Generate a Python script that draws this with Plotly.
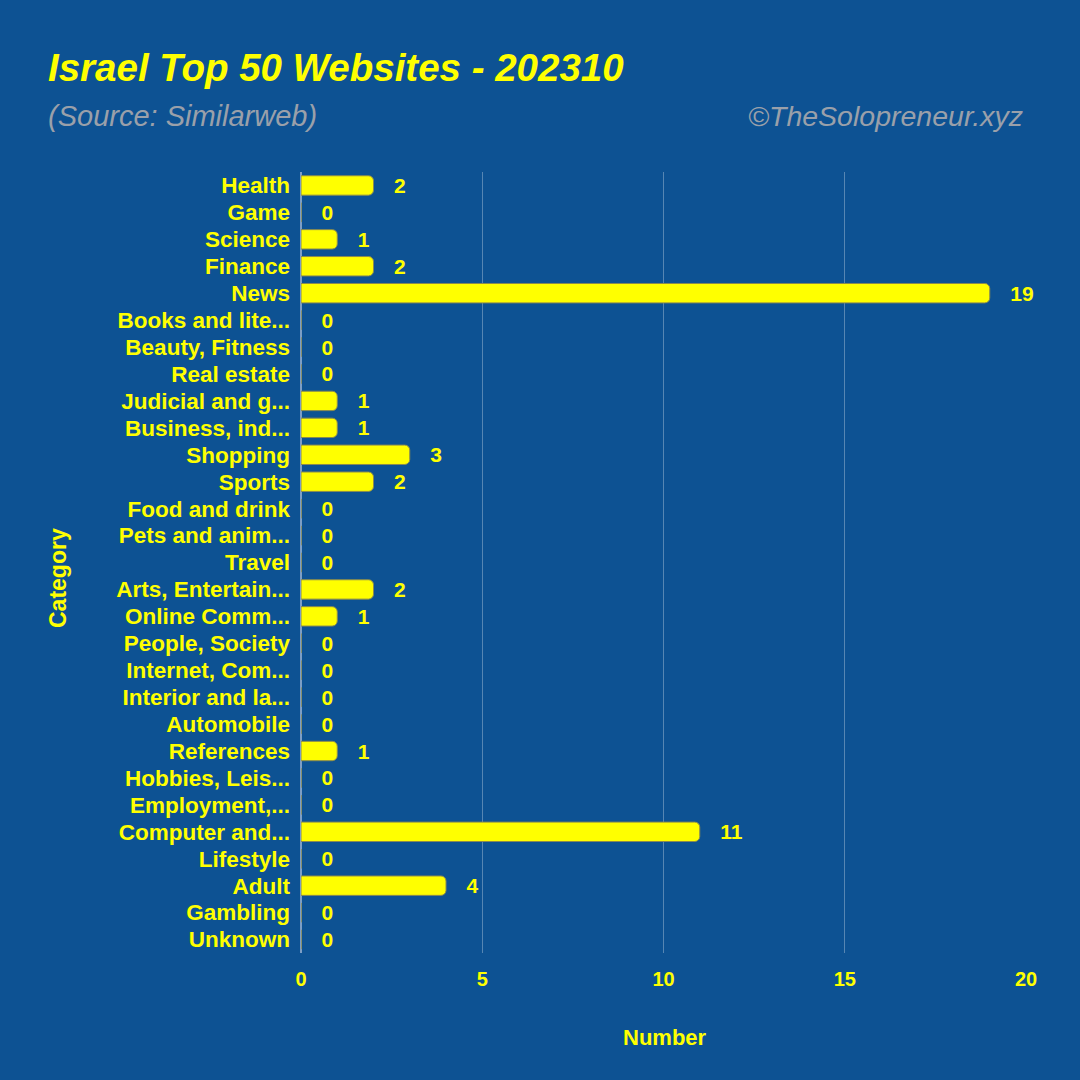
import plotly.graph_objects as go

categories = ["Health", "Game", "Science", "Finance", "News", "Books and lite...",
              "Beauty, Fitness", "Real estate", "Judicial and g...", "Business, ind...",
              "Shopping", "Sports", "Food and drink", "Pets and anim...", "Travel",
              "Arts, Entertain...", "Online Comm...", "People, Society", "Internet, Com...",
              "Interior and la...", "Automobile", "References", "Hobbies, Leis...",
              "Employment,...", "Computer and...", "Lifestyle", "Adult", "Gambling", "Unknown"]
values = [2, 0, 1, 2, 19, 0, 0, 0, 1, 1, 3, 2, 0, 0, 0, 2, 1, 0, 0, 0, 0, 1, 0, 0, 11, 0, 4, 0, 0]
x_ticks = [0, 5, 10, 15, 20]

BG = "#0d5293"
YEL = "#ffff00"
GRAY = "#9aa0aa"
FONT = "Liberation Sans"

L, R, T, B = 301, 54, 172, 127
W = H = 1080
pw = W - L - R
ph = H - T - B


def px(x):
    return (x - L) / pw


def py(y):
    return (H - B - y) / ph


fig = go.Figure(go.Bar(
    x=values, y=categories, orientation="h",
    marker=dict(color=YEL, line=dict(color="#8a8a50", width=1), cornerradius=5),
    text=["   " + str(v) for v in values], textposition="outside",
    constraintext="none",
    textfont=dict(family=FONT, size=21, color=YEL, weight="bold"),
    cliponaxis=False,
))

fig.update_layout(
    width=W, height=H,
    paper_bgcolor=BG, plot_bgcolor=BG,
    margin=dict(l=L, r=R, t=T, b=B),
    bargap=0.28,
    showlegend=False,
    font=dict(family=FONT, color=YEL),
    xaxis=dict(
        range=[0, 20], tickvals=x_ticks, showgrid=True,
        gridcolor="rgba(255,255,255,0.3)", gridwidth=1,
        zeroline=True, zerolinecolor="rgba(200,210,230,0.6)", zerolinewidth=2,
        tickfont=dict(family=FONT, size=20, color=YEL, weight="bold"),
        ticks="", ticklabelstandoff=12,
    ),
    yaxis=dict(
        autorange="reversed", showgrid=False,
        tickmode="array", tickvals=categories, ticktext=categories,
        tickfont=dict(family=FONT, size=22.5, color=YEL, weight="bold"),
        ticks="", ticklabelstandoff=10,
    ),
    annotations=[
        dict(text="<b><i>Israel Top 50 Websites - 202310</i></b>", x=px(46), y=py(68),
             xanchor="left", yanchor="middle", font=dict(family=FONT, size=38.5, color=YEL)),
        dict(text="<i>(Source: Similarweb)</i>", x=px(46), y=py(116),
             xanchor="left", yanchor="middle", font=dict(family=FONT, size=29, color=GRAY)),
        dict(text="<i>©TheSolopreneur.xyz</i>", x=px(1025), y=py(116),
             xanchor="right", yanchor="middle", font=dict(family=FONT, size=28.5, color=GRAY)),
        dict(text="<b>Category</b>", x=px(58), y=py(578), textangle=-90,
             xanchor="center", yanchor="middle", font=dict(family=FONT, size=23, color=YEL)),
        dict(text="<b>Number</b>", x=px(665), y=py(1037),
             xanchor="center", yanchor="middle", font=dict(family=FONT, size=22, color=YEL)),
    ],
)
fig.update_annotations(xref="paper", yref="paper", showarrow=False)

fig.write_html("out.html", config={"displayModeBar": False},
               post_script="document.body.style.margin='0';")
